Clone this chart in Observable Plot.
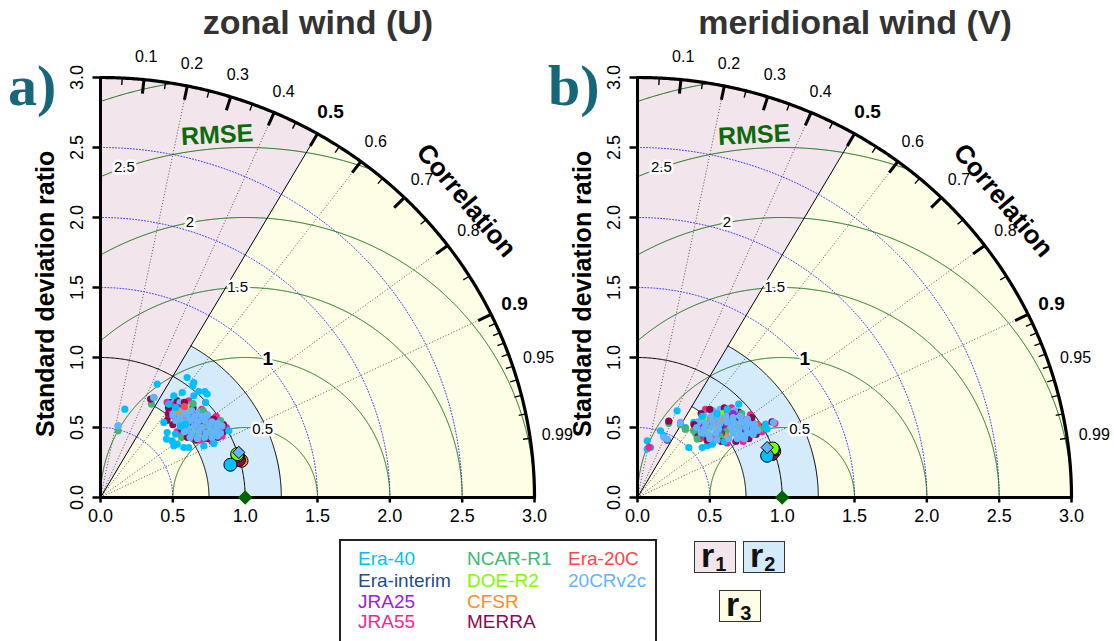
<!DOCTYPE html>
<html>
<head>
<meta charset="utf-8">
<script src="https://cdn.jsdelivr.net/npm/d3@7"></script>
<script src="https://cdn.jsdelivr.net/npm/@observablehq/plot@0.6"></script>
<style>
  body { margin: 0; background: #fff; font-family: "Liberation Sans", Arial, Helvetica, sans-serif; }
  #page { position: relative; width: 1114px; height: 641px; overflow: hidden; background: #fff; }
  .panel { position: absolute; top: 0; }
  .title { position: absolute; top: 5px; width: 600px; text-align: center; font-weight: bold;
           font-size: 34px; line-height: 34px; color: #333; white-space: nowrap; }
  .tag { position: absolute; top: 57px; font-family: "Liberation Serif", "DejaVu Serif", serif;
         font-weight: bold; font-size: 58px; line-height: 58px; color: #17677a; }
  #legend { position: absolute; left: 339px; top: 539px; width: 318px; height: 120px;
            border: 2px solid #222; box-sizing: border-box; }
  #legend span { position: absolute; font-size: 19px; line-height: 19px; white-space: nowrap; }
  .rbox { position: absolute; width: 42px; height: 32px; box-sizing: border-box; border: 1px solid #333;
          font-weight: bold; font-size: 34px; line-height: 26px; padding-left: 6px; color: #111; }
  .rbox sub { font-size: 20px; line-height: 0; vertical-align: -4px; margin-left: 1px; }
</style>
</head>
<body>
<div id="page">
  <div class="title" style="left:18px">zonal wind (U)</div>
  <div class="title" style="left:555px">meridional wind (V)</div>
  <div id="panelU" class="panel" style="left:0px"></div>
  <div id="panelV" class="panel" style="left:537px"></div>
  <div class="tag" style="left:8px">a)</div>
  <div class="tag" style="left:548px">b)</div>
  <div id="legend"></div>
  <div class="rbox" style="left:694px;top:541px;background:#f2e5ec">r<sub>1</sub></div>
  <div class="rbox" style="left:743px;top:541px;background:#d4ebfb">r<sub>2</sub></div>
  <div class="rbox" style="left:719px;top:590px;background:#fefee6">r<sub>3</sub></div>
</div>
<script>
// Reanalyses and their colours
const names = ["Era-40", "Era-interim", "JRA25", "JRA55", "NCAR-R1", "DOE-R2", "CFSR", "MERRA", "Era-20C", "20CRv2c"];
const colors = ["#00bfff", "#1f4e8c", "#9b22d3", "#ff1f8e", "#3cb878", "#7cfc00", "#ff8c1a", "#8b0a50", "#ff4545", "#63b3ff"];

// Axis ticks (standard deviation ratio) and correlation ticks
const sdTicks = [0, 0.5, 1, 1.5, 2, 2.5, 3];
const corrLabels = [0.1, 0.2, 0.3, 0.4, 0.5, 0.6, 0.7, 0.8, 0.9, 0.95, 0.99];
const corrBold = [0.5, 0.9];
const corrMajor = [0.1, 0.2, 0.3, 0.4, 0.5, 0.6, 0.7, 0.8, 0.9];
const corrMinor = [0.05, 0.15, 0.25, 0.35, 0.45, 0.55, 0.65, 0.75, 0.85, 0.91, 0.92, 0.93, 0.94, 0.95, 0.96, 0.97, 0.98, 0.99];
const corrRadials = [0.2, 0.4, 0.6, 0.8, 0.9];
const rmseLevels = [0.5, 1, 1.5, 2, 2.5, 3];
const rmseLabelled = [0.5, 1, 1.5, 2, 2.5];
const sdArcs = [0.5, 1.5, 2, 2.5];

// Zonal wind: points as [sd·cos(corr angle), sd·sin(corr angle)]
const uEra40 = [[0.599,0.857],[0.645,0.821],[0.638,0.798],[0.392,0.81],[0.565,0.75],[0.68,0.757],[0.721,0.757],[0.737,0.739],[0.645,0.726],[0.726,0.679],[0.507,0.726],[0.168,0.631],[0.122,0.512],[0.461,0.464],[0.456,0.417],[0.518,0.453],[0.495,0.405],[0.53,0.381],[0.507,0.369],[0.576,0.357],[0.61,0.357],[0.714,0.369],[0.783,0.386],[0.887,0.476],[0.438,0.536],[0.518,0.643],[0.472,0.667],[0.37,0.714],[0.587,0.524],[0.553,0.512]];
const uEraInterim = [[0.60,0.56],[0.66,0.52],[0.72,0.49],[0.56,0.61],[0.78,0.52],[0.63,0.60],[0.69,0.45],[0.52,0.57]];
const uJRA25 = [[0.58,0.57],[0.64,0.53],[0.70,0.53],[0.75,0.48],[0.54,0.64],[0.61,0.47],[0.80,0.55],[0.67,0.59]];
const uJRA55 = [[0.47,0.58],[0.50,0.66],[0.61,0.69],[0.70,0.63],[0.80,0.58],[0.87,0.50],[0.84,0.44],[0.77,0.40],[0.70,0.41],[0.57,0.44],[0.53,0.47],[0.35,0.70],[0.46,0.68]];
const uNCAR = [[0.52,0.65],[0.57,0.60],[0.62,0.57],[0.68,0.56],[0.74,0.53],[0.79,0.49],[0.85,0.48],[0.66,0.44],[0.60,0.48],[0.55,0.53],[0.64,0.67],[0.71,0.62],[0.76,0.45],[0.56,0.43],[0.352,0.667],[0.122,0.476],[0.83,0.55]];
const uDOE = [[0.59,0.55],[0.65,0.49],[0.71,0.56],[0.76,0.50],[0.55,0.60],[0.62,0.64],[0.82,0.48],[0.68,0.43]];
const uCFSR = [[0.60,0.53],[0.66,0.56],[0.73,0.51],[0.78,0.45],[0.57,0.58],[0.63,0.45],[0.81,0.51],[0.53,0.61]];
const uMERRA = [[0.48,0.68],[0.53,0.69],[0.47,0.60],[0.46,0.55],[0.50,0.52],[0.58,0.68],[0.64,0.64],[0.72,0.60],[0.78,0.56],[0.85,0.52],[0.85,0.47],[0.81,0.43],[0.74,0.42],[0.66,0.41],[0.60,0.43],[0.56,0.49],[0.346,0.703],[0.47,0.64]];
const uEra20C = [[0.61,0.58],[0.67,0.50],[0.74,0.57],[0.79,0.53],[0.56,0.56],[0.64,0.42],[0.83,0.49],[0.58,0.65]];
const u20CR = [[0.50,0.67],[0.55,0.68],[0.60,0.66],[0.49,0.63],[0.54,0.62],[0.58,0.63],[0.63,0.62],[0.68,0.61],[0.50,0.59],[0.55,0.58],[0.60,0.59],[0.65,0.58],[0.70,0.58],[0.74,0.59],[0.52,0.55],[0.57,0.54],[0.62,0.55],[0.67,0.54],[0.72,0.55],[0.77,0.54],[0.81,0.53],[0.55,0.51],[0.60,0.50],[0.65,0.51],[0.70,0.50],[0.75,0.51],[0.80,0.50],[0.84,0.51],[0.58,0.47],[0.63,0.46],[0.68,0.47],[0.73,0.46],[0.78,0.47],[0.83,0.46],[0.62,0.43],[0.67,0.42],[0.72,0.43],[0.77,0.43],[0.81,0.44],[0.368,0.714],[0.122,0.512]];
const uMeans = [[0.898,0.234],[0.952,0.285],[0.957,0.28],[0.958,0.275],[0.948,0.30],[0.945,0.31],[0.975,0.262],[0.957,0.268],[0.962,0.275],[0.956,0.322]];

// Meridional wind
const vEra40 = [[0.067,0.405],[0.067,0.346],[0.09,0.357],[0.159,0.476],[0.274,0.619],[0.332,0.5],[0.355,0.357],[0.413,0.429],[0.447,0.357],[0.482,0.369],[0.516,0.381],[0.389,0.536],[0.447,0.579],[0.62,0.631],[0.70,0.667],[0.885,0.524],[0.896,0.489],[0.55,0.60],[0.182,0.44],[0.60,0.40]];
const vEraInterim = [[0.55,0.55],[0.60,0.51],[0.68,0.55],[0.73,0.47],[0.50,0.52],[0.64,0.59],[0.58,0.46],[0.78,0.51]];
const vJRA25 = [[0.53,0.56],[0.62,0.52],[0.70,0.51],[0.75,0.48],[0.48,0.55],[0.66,0.60],[0.57,0.47],[0.44,0.51]];
const vJRA55 = [[0.47,0.63],[0.65,0.64],[0.78,0.59],[0.86,0.47],[0.73,0.40],[0.62,0.39],[0.52,0.39],[0.43,0.42],[0.39,0.48],[0.33,0.49],[0.08,0.36],[0.95,0.53]];
const vNCAR = [[0.45,0.60],[0.55,0.60],[0.64,0.55],[0.74,0.51],[0.80,0.53],[0.61,0.47],[0.45,0.44],[0.40,0.46],[0.57,0.44],[0.72,0.60],[0.216,0.53],[0.297,0.52],[0.332,0.488],[0.389,0.476],[0.413,0.417],[0.85,0.49]];
const vDOE = [[0.54,0.51],[0.63,0.56],[0.69,0.47],[0.79,0.55],[0.49,0.47],[0.59,0.60],[0.72,0.44],[0.46,0.56]];
const vCFSR = [[0.56,0.52],[0.64,0.49],[0.71,0.53],[0.77,0.45],[0.51,0.56],[0.61,0.44],[0.82,0.50],[0.60,0.56]];
const vMERRA = [[0.44,0.60],[0.50,0.63],[0.60,0.64],[0.70,0.61],[0.79,0.57],[0.84,0.51],[0.82,0.45],[0.77,0.42],[0.68,0.40],[0.58,0.40],[0.48,0.41],[0.42,0.44],[0.39,0.52],[0.216,0.545],[0.205,0.41],[0.93,0.54]];
const vEra20C = [[0.57,0.55],[0.65,0.52],[0.73,0.56],[0.78,0.47],[0.47,0.51],[0.54,0.44],[0.83,0.52],[0.62,0.62]];
const v20CR = [[0.52,0.62],[0.57,0.63],[0.62,0.61],[0.67,0.62],[0.46,0.58],[0.51,0.58],[0.56,0.57],[0.61,0.58],[0.66,0.57],[0.71,0.58],[0.76,0.56],[0.42,0.54],[0.47,0.53],[0.52,0.54],[0.57,0.53],[0.62,0.54],[0.67,0.53],[0.72,0.54],[0.77,0.53],[0.81,0.52],[0.41,0.50],[0.46,0.49],[0.51,0.50],[0.56,0.49],[0.65,0.50],[0.70,0.49],[0.75,0.50],[0.80,0.49],[0.83,0.48],[0.44,0.46],[0.49,0.45],[0.54,0.46],[0.66,0.46],[0.71,0.45],[0.76,0.46],[0.80,0.45],[0.50,0.42],[0.55,0.41],[0.63,0.42],[0.69,0.42],[0.74,0.42],[0.297,0.536],[0.182,0.43],[0.205,0.417],[0.94,0.535]];
const vMeans = [[0.896,0.298],[0.915,0.33],[0.918,0.325],[0.92,0.32],[0.94,0.345],[0.935,0.35],[0.945,0.33],[0.93,0.31],[0.925,0.33],[0.896,0.357]];

const uSeries = [uEra40, uEraInterim, uJRA25, uJRA55, uNCAR, uDOE, uCFSR, uMERRA, uEra20C, u20CR];
const vSeries = [vEra40, vEraInterim, vJRA25, vJRA55, vNCAR, vDOE, vCFSR, vMERRA, vEra20C, v20CR];

// Stacking order of the ensemble-mean symbols (bottom to top)
const meanOrder = ["Era-20C", "Era-interim", "JRA25", "JRA55", "CFSR", "MERRA", "NCAR-R1", "DOE-R2", "Era-40", "20CRv2c"];

const deg = Math.PI / 180;
const cut = Math.acos(0.5) / deg;            // correlation 0.5 boundary (60°)
const arcPts = (r, a0, a1, n = 180) => d3.range(n + 1).map(i => {
  const t = (a0 + (a1 - a0) * i / n) * deg;
  return {x: r * Math.cos(t), y: r * Math.sin(t)};
});
const polar = (c, r) => ({x: r * c, y: r * Math.sqrt(1 - c * c)});

// Background regions r1 (low correlation), r2 (sd ratio 0.75–1.25), r3 (rest)
const r3Poly = [{x: 0, y: 0}, ...arcPts(3, 0, cut)];
const r1Poly = [{x: 0, y: 0}, ...arcPts(3, cut, 90)];
const r2Poly = [...arcPts(1.25, 0, cut), ...arcPts(0.75, cut, 0)];

// Centred RMSE circles around the reference point (1, 0), kept inside the quadrant
const rmseArcs = rmseLevels.flatMap(r => d3.range(0, 1441).map(i => {
  const t = i / 8 * deg;
  return {r, x: 1 + r * Math.cos(t), y: r * Math.sin(t)};
}).filter(p => p.x >= -1e-6 && p.x * p.x + p.y * p.y <= 9 + 1e-6));
const rmseLabelAngle = {0.5: 76, 1: 81, 1.5: 92, 2: 101, 2.5: 109.5};
const rmseText = rmseLabelled.map(r => ({r, x: 1 + r * Math.cos(rmseLabelAngle[r] * deg), y: r * Math.sin(rmseLabelAngle[r] * deg)}));

const sdArcPts = sdArcs.flatMap(r => arcPts(r, 0, 90).map(p => ({...p, r})));

// px → data-unit conversions for offsets drawn in data space
const kx = 434 / 3, ky = 420 / 3;

function panel(series, means) {
  // members drawn interleaved: j-th member of every reanalysis, then the next one
  const pts = series.flatMap((s, i) => s.map(([x, y], j) => ({x, y, j, i, name: names[i]})))
    .sort((a, b) => a.j - b.j || a.i - b.i);
  const mean = means.map(([x, y], i) => ({x, y, name: names[i]}))
    .sort((a, b) => meanOrder.indexOf(a.name) - meanOrder.indexOf(b.name));
  const circles = mean.filter(d => d.name !== "20CRv2c");
  const diamonds = mean.filter(d => d.name === "20CRv2c");
  const labelR = c => 3.16 + 0.03 * c * c;
  return Plot.plot({
    width: 537, height: 530,
    marginLeft: 100, marginRight: 3, marginTop: 77, marginBottom: 33,
    x: {domain: [0, 3], axis: null},
    y: {domain: [0, 3], axis: null},
    color: {domain: names, range: colors},
    style: {fontFamily: "Liberation Sans, Arial, Helvetica, sans-serif", background: "transparent", overflow: "visible", color: "black"},
    marks: [
      Plot.line(r3Poly, {x: "x", y: "y", fill: "#fefee6", stroke: "none"}),
      Plot.line(r1Poly, {x: "x", y: "y", fill: "#f2e5ec", stroke: "none"}),
      Plot.line(r2Poly, {x: "x", y: "y", fill: "#d4ebfb", stroke: "none"}),
      Plot.line(sdArcPts, {x: "x", y: "y", z: "r", stroke: "#3a3aff", strokeWidth: 1, strokeDasharray: "1,2"}),
      Plot.link(corrRadials, {x1: () => 0, y1: () => 0, x2: c => polar(c, 3).x, y2: c => polar(c, 3).y,
        stroke: "#444", strokeWidth: 0.9, strokeDasharray: "1,2"}),
      Plot.line(rmseArcs, {x: "x", y: "y", z: "r", stroke: "#0a6a0a", strokeWidth: 1}),
      Plot.line(arcPts(1, 0, 90), {x: "x", y: "y", stroke: "black", strokeWidth: 1}),
      Plot.line(arcPts(0.75, 0, cut), {x: "x", y: "y", stroke: "black", strokeWidth: 1}),
      Plot.line(arcPts(1.25, 0, cut), {x: "x", y: "y", stroke: "black", strokeWidth: 1}),
      Plot.link([0.5], {x1: () => 0, y1: () => 0, x2: c => polar(c, 3).x, y2: c => polar(c, 3).y, stroke: "black", strokeWidth: 1}),
      Plot.text(rmseText.filter(d => d.r !== 1), {x: "x", y: "y", text: d => String(d.r), fontSize: 15,
        stroke: "white", strokeWidth: 5, paintOrder: "stroke", fill: "black"}),
      Plot.text(rmseText.filter(d => d.r === 1), {x: "x", y: "y", text: d => String(d.r), fontSize: 19, fontWeight: "bold",
        stroke: "white", strokeWidth: 5, paintOrder: "stroke", fill: "black"}),
      Plot.text(["RMSE"], {x: () => 0.806, y: () => 2.589, text: d => d, fontSize: 25, fontWeight: "bold", fill: "#0b6b0b", rotate: -3}),
      // ensemble members
      Plot.dot(pts, {x: "x", y: "y", fill: "name", r: 3.6, stroke: "none"}),
      // ensemble means
      Plot.dot(circles, {x: "x", y: "y", fill: "name", r: 6.5, stroke: "black", strokeWidth: 1}),
      Plot.dot(diamonds, {x: "x", y: "y", fill: "name", r: 5.5, symbol: "diamond2", stroke: "black", strokeWidth: 1}),
      // outer correlation arc and axes
      Plot.line(arcPts(3, 0, 90, 360), {x: "x", y: "y", stroke: "black", strokeWidth: 3.2}),
      Plot.link([0], {x1: () => 0, y1: () => 0, x2: () => 3, y2: () => 0, stroke: "black", strokeWidth: 3}),
      Plot.link([0], {x1: () => 0, y1: () => 0, x2: () => 0, y2: () => 3, stroke: "black", strokeWidth: 3}),
      Plot.link(sdTicks, {x1: d => d, x2: d => d, y1: () => 0, y2: () => -5 / ky, stroke: "black", strokeWidth: 2.5}),
      Plot.link(sdTicks, {y1: d => d, y2: d => d, x1: () => 0, x2: () => -8 / kx, stroke: "black", strokeWidth: 2.5}),
      Plot.text(sdTicks, {x: d => d, y: () => -19 / ky, text: d => d.toFixed(1), fontSize: 18}),
      Plot.text(sdTicks, {y: d => d, x: () => -23 / kx, text: d => d.toFixed(1), fontSize: 18, rotate: -90}),
      Plot.text(["Standard deviation ratio"], {x: () => -55 / kx, y: () => 1.455, text: d => d, fontSize: 25, fontWeight: "bold", rotate: -90}),
      // correlation ticks and labels
      Plot.link(corrMajor, {x1: c => polar(c, 3).x, y1: c => polar(c, 3).y, x2: c => polar(c, 2.9).x, y2: c => polar(c, 2.9).y,
        stroke: "black", strokeWidth: 3}),
      Plot.link(corrMinor, {x1: c => polar(c, 3).x, y1: c => polar(c, 3).y, x2: c => polar(c, 2.95).x, y2: c => polar(c, 2.95).y,
        stroke: "black", strokeWidth: 1.4}),
      Plot.text(corrLabels.filter(c => !corrBold.includes(c)), {x: c => polar(c, labelR(c)).x, y: c => polar(c, labelR(c)).y,
        text: c => String(c), fontSize: 16}),
      Plot.text(corrBold, {x: c => polar(c, 3.18).x, y: c => polar(c, 3.18).y, text: c => String(c), fontSize: 19, fontWeight: "bold"}),
      Plot.text(["Correlation"], {x: () => polar(Math.cos(40 * deg), 3.30).x, y: () => polar(Math.cos(40 * deg), 3.30).y,
        text: d => d, fontSize: 26, fontWeight: "bold", rotate: 50}),
      // reference point
      Plot.dot([{x: 1, y: 0}], {x: "x", y: "y", r: 6.5, symbol: "diamond2", fill: "#006400", stroke: "none"})
    ]
  });
}

document.getElementById("panelU").appendChild(panel(uSeries, uMeans));
document.getElementById("panelV").appendChild(panel(vSeries, vMeans));

// Legend of reanalyses (three columns)
const legend = document.getElementById("legend");
const colLeft = [17, 126, 227];
const rowTop = [8, 30, 51, 71];
const layout = [[0, 0], [0, 1], [0, 2], [0, 3], [1, 0], [1, 1], [1, 2], [1, 3], [2, 0], [2, 1]];
names.forEach((n, i) => {
  const s = document.createElement("span");
  s.textContent = n;
  s.style.color = colors[i];
  s.style.left = colLeft[layout[i][0]] + "px";
  s.style.top = rowTop[layout[i][1]] + "px";
  legend.appendChild(s);
});
</script>
</body>
</html>
